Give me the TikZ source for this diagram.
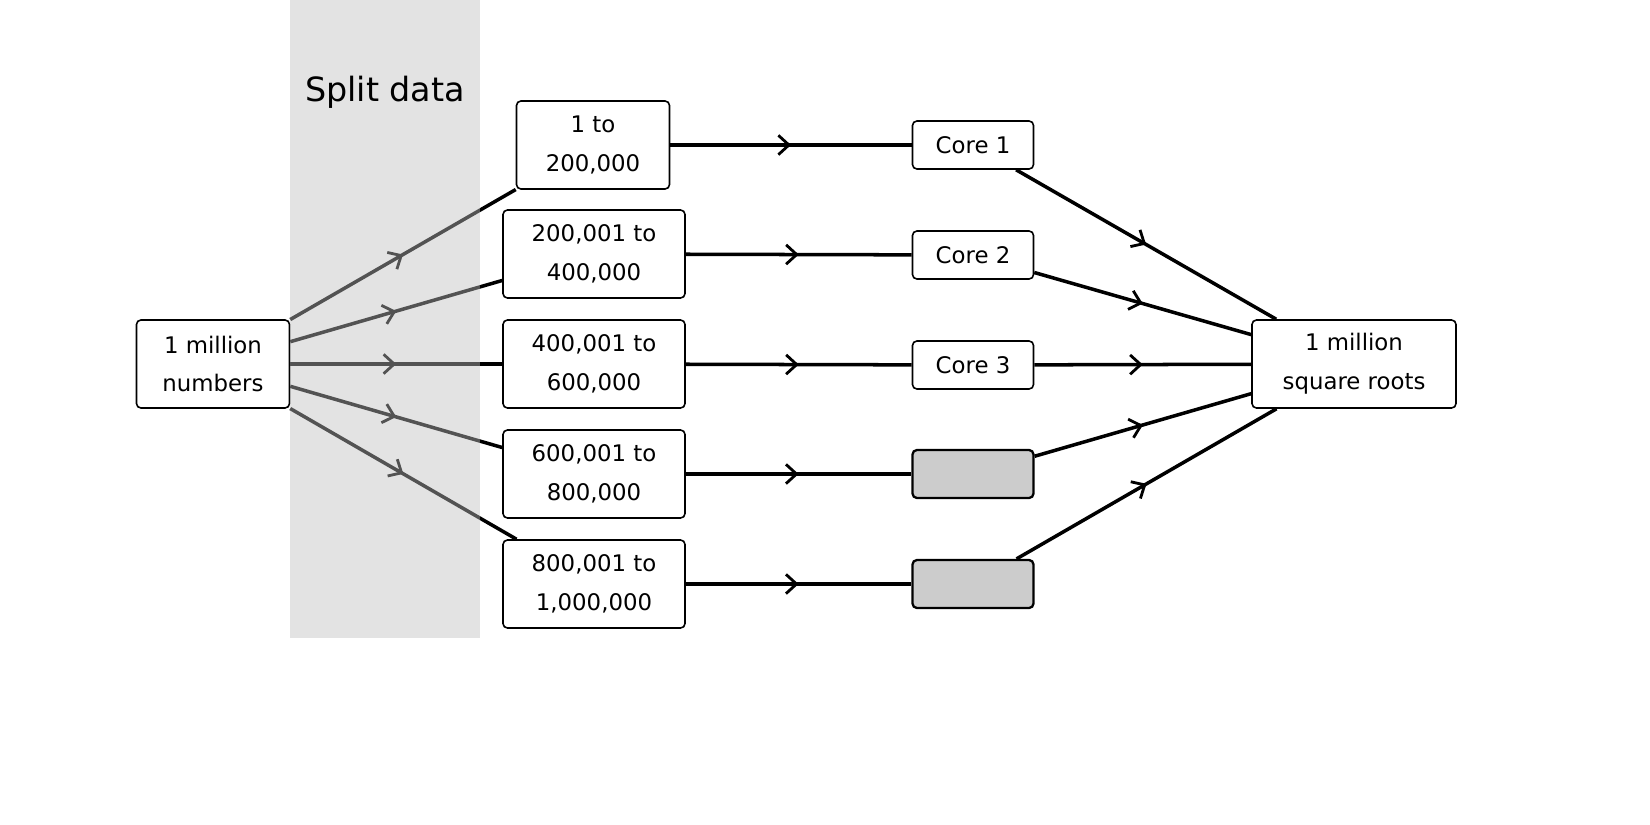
\documentclass[tikz,border=0pt]{standalone}
\usepackage{fontspec}
\setmainfont{DejaVu Sans}
\usetikzlibrary{arrows.meta,decorations.markings}
\tikzset{
  box/.style={draw, rounded corners=2.5pt, line width=0.9pt, fill=white, align=center,
    font=\fontsize{13}{22}\selectfont, inner sep=0pt},
  core/.style={box, minimum width=2.42cm, minimum height=0.96cm},
  idle/.style={core, fill=black!20, line width=1.3pt},
  flow/.style={line width=2pt, postaction={decorate}, decoration={markings,
    mark=at position 0.5 with {\arrow{Straight Barb[length=6pt,width=11pt,line width=1.6pt]}}}}
}
\begin{document}
\begin{tikzpicture}[x=0.02cm, y=-0.02cm]
			\useasboundingbox (0,0) rectangle (1650,825);
			% input and chunks
			\node[box, minimum width=3.06cm, minimum height=1.76cm] (N) at (213,364) {1 million\\numbers};
			\node[box, minimum width=3.06cm, minimum height=1.76cm] (R1) at (593,145) {1 to\\200,000};
			\node[box, minimum width=3.64cm, minimum height=1.76cm] (R2) at (594,254) {200,001 to\\400,000};
			\node[box, minimum width=3.64cm, minimum height=1.76cm] (R3) at (594,364) {400,001 to\\600,000};
			\node[box, minimum width=3.64cm, minimum height=1.76cm] (R4) at (594,474) {600,001 to\\800,000};
			\node[box, minimum width=3.64cm, minimum height=1.76cm] (R5) at (594,584) {800,001 to\\1,000,000};
			% cores and output
			\node[core] (C1) at (973,145) {Core 1};
			\node[core] (C2) at (973,255) {Core 2};
			\node[core] (C3) at (973,365) {Core 3};
			\node[idle] (C4) at (973,474) {};
			\node[idle] (C5) at (973,584) {};
			\node[box, minimum width=4.08cm, minimum height=1.76cm] (O) at (1354,364) {1 million\\square roots};
			
			\foreach \i in {1,...,5} {
				\draw[flow] (N) -- (R\i);
				\draw[flow] (R\i) -- (C\i);
				\draw[flow] (C\i) -- (O);
			}
			% split band
			\fill[black!25, opacity=0.44] (290,0) rectangle (480,638);
			\node[font=\fontsize{19}{23}\selectfont] (T) at (385,92) {Split data};
	\end{tikzpicture}
\end{document}
